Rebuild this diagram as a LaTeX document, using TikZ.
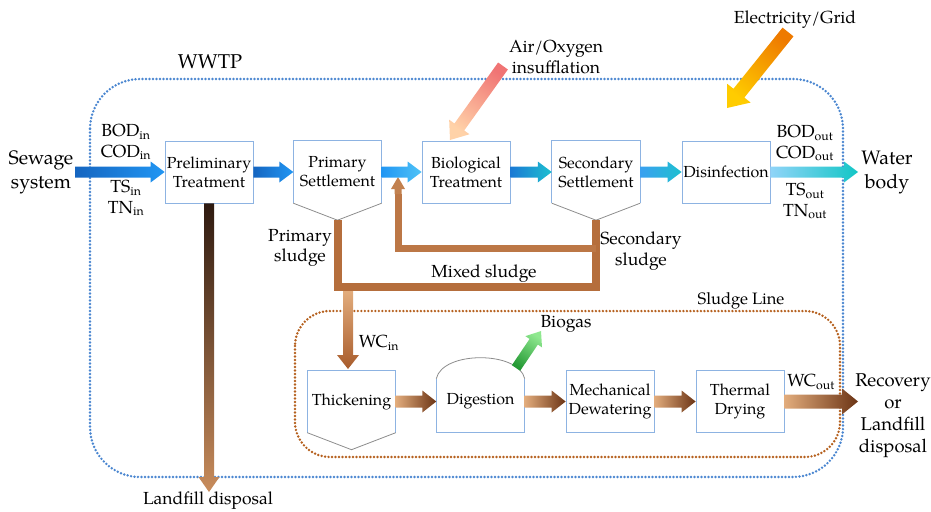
\documentclass[tikz,border=0pt]{standalone}
\usepackage{fontspec}
\setmainfont{TeX Gyre Pagella}
\usetikzlibrary{calc}
\definecolor{boxblue}{HTML}{8DB3E2}
\definecolor{vgray}{HTML}{8C8C8C}
\definecolor{dotblue}{HTML}{4A86D0}
\definecolor{dotbrown}{HTML}{B5601E}
\definecolor{pipecol}{HTML}{B56E3C}
\definecolor{blA}{HTML}{1565C0}
\definecolor{blB}{HTML}{2196F3}
\definecolor{blC}{HTML}{4FC3F7}
\definecolor{blD}{HTML}{1EC0D0}
\definecolor{blE}{HTML}{3AA0F0}
\definecolor{blF}{HTML}{90D4F8}
\definecolor{blG}{HTML}{12C6C6}
\definecolor{brL}{HTML}{E2AC7C}
\definecolor{brD}{HTML}{6B3415}
\definecolor{brM}{HTML}{A85C2C}
\definecolor{lfA}{HTML}{2E1A10}
\definecolor{lfB}{HTML}{C88C5C}
\definecolor{airA}{HTML}{F07474}
\definecolor{airB}{HTML}{FFD2A8}
\definecolor{elA}{HTML}{EE7A00}
\definecolor{elB}{HTML}{FFCC00}
\definecolor{bgA}{HTML}{259A35}
\definecolor{bgB}{HTML}{8FE88F}
% #1 tail, #2 tip, #3 half shaft, #4 half head, #5 head length, #6 tail colour, #7 tip colour, #8 shading angle
\newcommand{\fatarr}[8]{%
  \coordinate (fab) at ($(#2)!#5!(#1)$);
  \shade[top color=#6, bottom color=#7, shading angle=#8]
    ($(#1)!#3!90:(#2)$) -- ($(fab)!#3!90:(#2)$) -- ($(fab)!#4!90:(#2)$) -- (#2)
    -- ($(fab)!#4!-90:(#2)$) -- ($(fab)!#3!-90:(#2)$) -- ($(#1)!#3!-90:(#2)$) -- cycle;}
\begin{document}
\begin{tikzpicture}[x=1pt,y=-1pt,
  box/.style={rectangle, minimum width=88pt, minimum height=62pt, align=center, inner sep=1pt,
    font=\fontsize{16}{19}\selectfont},
  framed/.style={box, draw=boxblue, line width=0.8pt},
  lbl/.style={align=center, inner sep=0pt, font=\fontsize{17.5}{20.5}\selectfont},
  biglbl/.style={align=center, inner sep=0pt, font=\fontsize{19.5}{24}\selectfont},
  pipe/.style={draw=pipecol, line width=8pt, line join=miter},
  dotline/.style={line width=2.7pt, dash pattern=on 0pt off 3.5pt, line cap=round},
]
\useasboundingbox (0,0) rectangle (931,511);

% enclosures
\draw[dotline, dotblue, rounded corners=50pt] (90,79) rectangle (843,477);
\draw[dotline, dotbrown, rounded corners=35pt] (295,311) rectangle (840,457);
\node[inner sep=0pt, font=\fontsize{20}{24}\selectfont] (wwtp) at (210,62) {WWTP};
\node[inner sep=0pt, font=\fontsize{16.5}{19}\selectfont] (sline) at (741,301) {Sludge Line};

% water line boxes
\node[framed] (pre) at (209,172) {Preliminary\\Treatment};
\node[box] (ps) at (337.5,172) {Primary\\Settlement};
\node[framed] (bio) at (466,172) {Biological\\Treatment};
\node[box] (ss) at (596,172) {Secondary\\Settlement};
\node[framed] (dis) at (726,172) {Disinfection};

\coordinate (pstip) at ($(ps.south)+(0,17)$);
\coordinate (sstip) at ($(ss.south)+(0,17)$);
\draw[boxblue, line width=0.8pt] (ps.south west) -- (ps.north west) -- (ps.north east) -- (ps.south east);
\draw[vgray, line width=0.8pt] (ps.south west) -- (pstip) -- (ps.south east);
\draw[boxblue, line width=0.8pt] (ss.south west) -- (ss.north west) -- (ss.north east) -- (ss.south east);
\draw[vgray, line width=0.8pt] (ss.south west) -- (sstip) -- (ss.south east);

% sludge line boxes
\node[box] (thk) at (351.5,401.5) {Thickening};
\node[box] (dig) at (480.5,401.5) {Digestion};
\node[framed] (mech) at (610,401.5) {Mechanical\\Dewatering};
\node[framed] (thd) at (740,401.5) {Thermal\\Drying};

\coordinate (thktip) at ($(thk.south)+(0,17)$);
\draw[boxblue, line width=0.8pt] (thk.south west) -- (thk.north west) -- (thk.north east) -- (thk.south east);
\draw[vgray, line width=0.8pt] (thk.south west) -- (thktip) -- (thk.south east);
\coordinate (digL) at ($(dig.south west)+(0,-54)$);
\coordinate (digR) at ($(dig.south east)+(0,-54)$);
\draw[boxblue, line width=0.8pt] (digL) -- (dig.south west) -- (dig.south east) -- (digR);
\draw[vgray, line width=0.8pt] (digL) .. controls +(6,-28) and +(-6,-28) .. (digR);

% labels
\node[biglbl] (sew) at (41,172) {Sewage\\system};
\node[biglbl] (wat) at (887,172) {Water\\body};
\node[biglbl, font=\fontsize{18.5}{22}\selectfont] (rec) at (893,416) {Recovery\\or\\Landfill\\disposal};
\node[lbl] (inA) at (126,142) {BOD\textsubscript{in}\\COD\textsubscript{in}};
\node[lbl] (inB) at (126,198) {TS\textsubscript{in}\\TN\textsubscript{in}};
\node[lbl] (outA) at (805,143) {BOD\textsubscript{out}\\COD\textsubscript{out}};
\node[lbl] (outB) at (805,201) {TS\textsubscript{out}\\TN\textsubscript{out}};
\node[lbl] (air) at (556,57) {Air/Oxygen\\insufflation};
\node[lbl] (elec) at (795,20) {Electricity/Grid};
\node[lbl] (psl) at (300,248) {Primary\\sludge};
\node[lbl] (ssl) at (641,251) {Secondary\\sludge};
\node[lbl] (mix) at (484,274) {Mixed sludge};
\node[lbl] (lfd) at (208,501) {Landfill disposal};
\node[lbl] (bg) at (566,324) {Biogas};
\node[lbl] (wci) at (379,343) {WC\textsubscript{in}};
\node[lbl] (wco) at (811,382) {WC\textsubscript{out}};

% sludge pipes
\coordinate (mixL) at (337.5,287);
\coordinate (mixR) at (596,287);
\draw[pipe] (pstip) -- (mixL) -- (mixR) -- (sstip);
\coordinate (recR) at (596,248);
\coordinate (recL) at (398,248);
\coordinate (recT) at (398,194);
\coordinate (rectip) at (398,177);
\draw[pipe, line width=7pt, draw=pipecol!85!brL] (recR) -- (recL) -- (recT);
\fatarr{recT}{rectip}{3.5pt}{7pt}{12pt}{pipecol!70!brL}{pipecol!70!brL}{180}

% water line arrows
\coordinate (sewT) at (75,172);
\coordinate (watH) at (858,172);
\fatarr{sewT}{pre.west}{5.5pt}{10.5pt}{14pt}{blA}{blB}{90}
\fatarr{pre.east}{ps.west}{5.5pt}{10.5pt}{14pt}{blA}{blB}{90}
\fatarr{ps.east}{bio.west}{5.5pt}{10.5pt}{14pt}{blB}{blC}{90}
\fatarr{bio.east}{ss.west}{5.5pt}{10.5pt}{14pt}{blA!60!blB}{blD}{90}
\fatarr{ss.east}{dis.west}{5.5pt}{10.5pt}{14pt}{blE}{blD}{90}
\fatarr{dis.east}{watH}{5.5pt}{10.5pt}{14pt}{blF}{blG}{90}

% inputs
\coordinate (airT) at (503,66);
\coordinate (airH) at (450,140);
\fatarr{airT}{airH}{6pt}{12.5pt}{16pt}{airA}{airB}{-36}
\coordinate (elT) at (788,32);
\coordinate (elH) at (727,108);
\fatarr{elT}{elH}{7pt}{15pt}{19pt}{elA}{elB}{-39}

% landfill
\coordinate (lfH) at (209,492);
\fatarr{pre.south}{lfH}{5pt}{10.5pt}{15pt}{lfA}{lfB}{0}

% sludge line arrows
\coordinate (wcinT) at (348,291);
\coordinate (wcinH) at (348,369);
\fatarr{wcinT}{wcinH}{5pt}{11pt}{14pt}{brL}{brM}{0}
\coordinate (recH) at (858,401.5);
\fatarr{thk.east}{dig.west}{6pt}{11pt}{14pt}{brL}{brD}{90}
\fatarr{dig.east}{mech.west}{6pt}{11pt}{14pt}{brL}{brD}{90}
\fatarr{mech.east}{thd.west}{6pt}{11pt}{14pt}{brL}{brD}{90}
\fatarr{thd.east}{recH}{7pt}{13pt}{16pt}{brL}{brD}{90}
\coordinate (bgT) at (516,368);
\coordinate (bgH) at (541,331);
\fatarr{bgT}{bgH}{5pt}{10pt}{13pt}{bgA}{bgB}{146}
\end{tikzpicture}
\end{document}
